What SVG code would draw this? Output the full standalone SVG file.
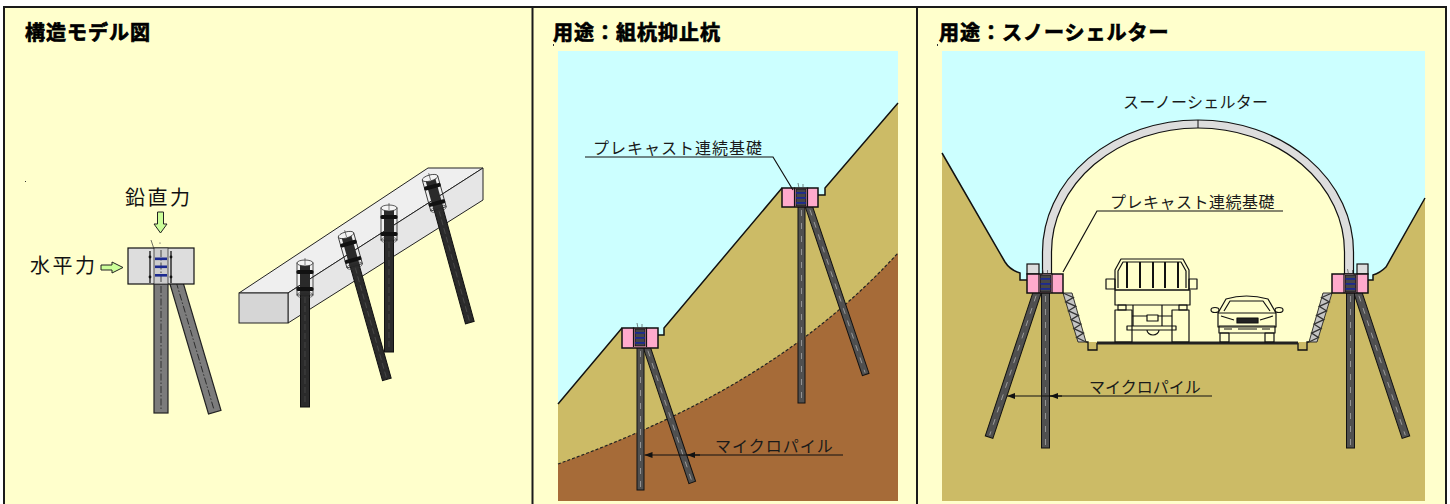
<svg xmlns="http://www.w3.org/2000/svg" width="1450" height="504" viewBox="0 0 1450 504">
<defs>
<style>
.frame{fill:#FFFFCC;stroke:#1a1a1a;stroke-width:2}
.div{stroke:#1a1a1a;stroke-width:2}
.title{font-family:"Noto Sans CJK JP","Noto Sans CJK SC",sans-serif;font-weight:700;font-size:20px;letter-spacing:1px;fill:#000;stroke:#000;stroke-width:0.7}
.force{font-family:"Noto Sans CJK JP",sans-serif;font-size:20px;letter-spacing:2.5px;fill:#111}
.lbl{font-family:"Noto Sans CJK JP",sans-serif;font-size:16px;fill:#1a1a1a}
.sky{fill:#CCFFFF}
.soil{fill:#CCBB66}
.clay{fill:#A66B38}
.surf{fill:none;stroke:#111;stroke-width:1.5}
.seam{fill:none;stroke:#222;stroke-width:1.2;stroke-dasharray:3 2}
.foot{fill:#FFAACC;stroke:#111;stroke-width:1.5}
.pl{fill:#505050;stroke:#111;stroke-width:1}
.plc{fill:none;stroke:#9a9a9a;stroke-width:0.9;stroke-dasharray:6 7}
.mshaft{fill:#2b2b2b;stroke:#111;stroke-width:1}
.mcl{fill:none;stroke:#4a4a4a;stroke-width:0.8;stroke-dasharray:6 3}
.gpile{fill:#7c7c7c;stroke:#222;stroke-width:1.2}
.dd{fill:none;stroke:#222;stroke-width:0.8;stroke-dasharray:7 2 1.5 2}
.lead{fill:none;stroke:#111;stroke-width:1.2}
.push{fill:#CCFF99;stroke:#222;stroke-width:1}
.veh{fill:none;stroke:#111;stroke-width:1.2;stroke-linejoin:round}
.conc{fill:#DDDDDD;stroke:#111;stroke-width:1.2}
.bar{fill:#1c2a90}
</style>
<marker id="ah" viewBox="0 0 8 6" refX="8" refY="3" markerWidth="8" markerHeight="6" markerUnits="userSpaceOnUse" orient="auto-start-reverse">
<path d="M0,0 L8,3 L0,6 Z" fill="#111"/>
</marker>
<!-- pile head embedded in a precast footing (origin = footing top, pile axis) -->
<g id="phead">
<rect x="-5" y="1" width="10" height="17" fill="#474747" stroke="#111" stroke-width="0.8"/>
<rect class="bar" x="-5" y="4" width="10" height="1.8"/>
<rect class="bar" x="-5" y="9" width="10" height="1.8"/>
<rect class="bar" x="-5" y="14" width="10" height="1.8"/>
<line x1="-6.5" y1="-0.5" x2="-6.5" y2="19" stroke="#111" stroke-width="1.2"/>
<line x1="6.5" y1="-0.5" x2="6.5" y2="19" stroke="#111" stroke-width="1.2"/>
<path d="M-3,-5 L-2,0 M2,-4 L2,-1" fill="none" stroke="#333" stroke-width="0.6"/>
</g>
<!-- coupler cap of a micropile on the isometric beam (origin = top centre) -->
<g id="cap">
<rect x="-8" y="0" width="16" height="32" fill="none" stroke="#222" stroke-width="0.8"/>
<rect x="-5" y="2" width="10" height="30" fill="#2a2a2a"/>
<ellipse cx="0" cy="0" rx="8" ry="3" fill="#f4f4f4" stroke="#333" stroke-width="0.8"/>
<rect x="-8.5" y="7" width="17" height="4" rx="1.5" fill="#111"/>
<rect x="-8.5" y="24" width="17" height="4" rx="1.5" fill="#111"/>
<line x1="0" y1="-5" x2="0" y2="2" stroke="#333" stroke-width="0.6"/>
<ellipse cx="0" cy="32" rx="8" ry="3" fill="none" stroke="#333" stroke-width="0.6"/>
</g>
</defs>

<!-- sheet and panel frames -->
<rect x="0" y="0" width="1450" height="504" fill="#ffffff"/>
<rect class="frame" x="4" y="7" width="1442" height="505"/>
<line class="div" x1="532.5" y1="7" x2="532.5" y2="504"/>
<line class="div" x1="917" y1="7" x2="917" y2="504"/>

<!-- ===== structural model panel ===== -->
<g id="panel-model">
<text class="title" x="25" y="40">構造モデル図</text>
<rect x="25" y="181" width="1" height="1" fill="#333"/>
<text class="force" x="125" y="205">鉛直力</text>
<text class="force" x="30" y="273">水平力</text>

<g id="model-footing">
<g transform="translate(175,278) rotate(-16.5)">
<rect class="gpile" x="-6.5" y="0" width="13" height="140"/>
<line class="dd" x1="0" y1="4" x2="0" y2="138"/>
</g>
<rect class="conc" x="128" y="248" width="66" height="36" stroke-width="1.5"/>
<rect class="gpile" x="154" y="284" width="14" height="129"/>
<line class="dd" x1="161" y1="286" x2="161" y2="411"/>
<rect x="154" y="248" width="14" height="36" fill="#cdcdcd" stroke="#333" stroke-width="0.8"/>
<line class="dd" x1="161" y1="250" x2="161" y2="282"/>
<rect class="bar" x="155" y="257.5" width="12" height="2.6"/>
<rect class="bar" x="155" y="265.5" width="12" height="2.6"/>
<rect class="bar" x="155" y="274" width="12" height="2.6"/>
<line x1="150" y1="251" x2="150" y2="283" stroke="#111" stroke-width="1.3"/>
<line x1="171" y1="251" x2="171" y2="283" stroke="#111" stroke-width="1.3"/>
<circle cx="150" cy="257" r="1.4" fill="#111"/>
<circle cx="150" cy="277" r="1.4" fill="#111"/>
<circle cx="171" cy="257" r="1.4" fill="#111"/>
<circle cx="171" cy="277" r="1.4" fill="#111"/>
<path d="M151,240 L154,249" stroke="#333" stroke-width="0.7"/>
<circle cx="160" cy="243" r="0.6" fill="#333"/>
</g>

<g id="model-beam">
<polygon points="239,293 428,168 483,168 288,293" fill="#EFEFEF" stroke="#222" stroke-width="1"/>
<polygon points="288,293 483,168 483,200 288,323" fill="#E6E6E6" stroke="#222" stroke-width="1"/>
<rect x="239" y="293" width="49" height="30" fill="#D6D6D6" stroke="#222" stroke-width="1"/>
</g>

<g id="model-piles">
<g id="mpile-2" transform="translate(346,235) rotate(-15.8)">
<rect class="mshaft" x="-4.5" y="30" width="9" height="120"/>
<line class="mcl" x1="0" y1="34" x2="0" y2="148"/>
<use href="#cap"/>
</g>
<g id="mpile-4" transform="translate(430,178) rotate(-15.4)">
<rect class="mshaft" x="-4.5" y="30" width="9" height="120"/>
<line class="mcl" x1="0" y1="34" x2="0" y2="148"/>
<use href="#cap"/>
</g>
<g id="mpile-3" transform="translate(389,208)">
<rect class="mshaft" x="-4.5" y="30" width="9" height="114"/>
<line class="mcl" x1="0" y1="34" x2="0" y2="142"/>
<use href="#cap"/>
</g>
<g id="mpile-1" transform="translate(305,263)">
<rect class="mshaft" x="-4.5" y="30" width="9" height="114"/>
<line class="mcl" x1="0" y1="34" x2="0" y2="142"/>
<use href="#cap"/>
</g>
</g>
</g>

<!-- ===== slope stabilisation panel ===== -->
<g id="panel-slope">
<text class="title" x="553" y="40">用途：組杭抑止杭</text>
<rect x="553" y="44" width="1" height="2" fill="#333"/>
<rect class="sky" x="558" y="51" width="340" height="450"/>
<path class="soil" d="M558,404 L622,328 L658,328 L658,335 L664,335 L664,328 L782,188 L818,188 L818,195 L825,195 L825,188 L898,103 L898,501 L558,501 Z"/>
<path class="clay" d="M558,464 C680,420 800,360 898,253 L898,501 L558,501 Z"/>
<path class="seam" d="M558,464 C680,420 800,360 898,253"/>
<path class="surf" d="M558,404 L622,328 M658,335 L664,335 L664,328 L782,188 M818,195 L825,195 L825,188 L898,103"/>

<g id="slope-lower">
<g transform="translate(646,345) rotate(-18.6)">
<rect class="pl" x="-3.5" y="0" width="7" height="145"/>
<line class="plc" x1="0" y1="6" x2="0" y2="143"/>
</g>
<rect class="pl" x="637" y="345" width="7" height="145"/>
<line class="plc" x1="640.5" y1="351" x2="640.5" y2="488"/>
<rect class="foot" x="622" y="328" width="36" height="20"/>
<use href="#phead" x="640" y="328"/>
</g>

<g id="slope-upper">
<g transform="translate(808,204) rotate(-18.7)">
<rect class="pl" x="-3.5" y="0" width="7" height="180"/>
<line class="plc" x1="0" y1="6" x2="0" y2="178"/>
</g>
<rect class="pl" x="798" y="204" width="7" height="199"/>
<line class="plc" x1="801.5" y1="210" x2="801.5" y2="401"/>
<rect class="foot" x="782" y="188" width="36" height="19"/>
<use href="#phead" x="801" y="188"/>
</g>

<text class="lbl" x="593" y="154" letter-spacing="1">プレキャスト連続基礎</text>
<text class="lbl" x="715" y="452" letter-spacing="1">マイクロパイル</text>
</g>

<!-- ===== snow shelter panel ===== -->
<g id="panel-shelter">
<text class="title" x="939" y="40">用途：スノーシェルター</text>
<rect x="937" y="44" width="1" height="2" fill="#333"/>
<rect class="sky" x="942" y="51" width="483" height="450"/>
<path class="soil" d="M942,153 L1005,262 Q1010,270 1020,273 L1020,280 L1027,280 L1027,274 L1368,274 L1368,280 L1373,280 L1373,275 Q1380,273 1386,267 L1425,198 L1425,501 L942,501 Z"/>
<path fill="#FFFFCC" d="M1047,274 L1047,252 A151,128 0 0 1 1349,252 L1349,274 L1332,274 L1332,293 L1323,293 L1309,342 L1086,342 L1072,293 L1063,293 L1063,274 Z"/>
<path class="surf" d="M942,153 L1005,262 Q1010,270 1020,273 L1020,280 L1027,280 M1368,280 L1373,280 L1373,275 Q1380,273 1386,267 L1425,198"/>

<g id="cut-walls">
<polygon points="1063,293 1072,293 1086,342 1078,342" fill="#c4c4c4" stroke="#222" stroke-width="0.9"/>
<polyline points="1063,293 1073.3,297.5 1065.7,301.9 1075.8,306.4 1068.5,310.8 1078.4,315.3 1071.2,319.7 1080.9,324.2 1073.9,328.6 1083.5,333.1 1076.6,337.5 1086,342" fill="none" stroke="#333" stroke-width="1.3"/>
<polygon points="1332,293 1323,293 1309,342 1317,342" fill="#c4c4c4" stroke="#222" stroke-width="0.9"/>
<polyline points="1332,293 1321.7,297.5 1329.3,301.9 1319.2,306.4 1326.5,310.8 1316.6,315.3 1323.8,319.7 1314.1,324.2 1321.1,328.6 1311.5,333.1 1318.4,337.5 1309,342" fill="none" stroke="#333" stroke-width="1.3"/>
</g>

<g id="road">
<path d="M1086,342 L1088,342 L1088,350 L1097,350 L1097,343 M1298,343 L1298,350 L1307,350 L1307,342 L1309,342" fill="none" stroke="#111" stroke-width="1.3"/>
<line x1="1097" y1="343" x2="1298" y2="343" stroke="#222" stroke-width="3"/>
</g>

<g id="shelter-left">
<g transform="translate(1038,290) rotate(18.4)">
<rect class="pl" x="-4" y="0" width="8" height="155"/>
<line class="plc" x1="0" y1="6" x2="0" y2="153"/>
</g>
<rect class="pl" x="1041.5" y="290" width="8" height="158"/>
<line class="plc" x1="1045.5" y1="296" x2="1045.5" y2="446"/>
</g>
<g id="shelter-right">
<g transform="translate(1357,290) rotate(-18.4)">
<rect class="pl" x="-4" y="0" width="8" height="155"/>
<line class="plc" x1="0" y1="6" x2="0" y2="153"/>
</g>
<rect class="pl" x="1346.5" y="290" width="8" height="158"/>
<line class="plc" x1="1350.5" y1="296" x2="1350.5" y2="446"/>
</g>

<g id="arch">
<path class="conc" d="M1042.5,274 L1042.5,252 A155.5,132 0 0 1 1353.5,252 L1353.5,274 L1344.5,274 L1344.5,252 A146.5,124 0 0 0 1051.5,252 L1051.5,274 Z"/>
<line x1="1198" y1="120" x2="1198" y2="128" stroke="#111" stroke-width="1"/>
</g>

<g id="footing-left">
<rect class="conc" x="1027" y="264" width="12" height="10"/>
<rect class="foot" x="1027" y="274" width="36" height="19"/>
<rect x="1042.5" y="274.5" width="9" height="4" fill="#ffcce0"/>
<use href="#phead" x="1045.5" y="274"/>
</g>
<g id="footing-right">
<rect class="conc" x="1357" y="264" width="11" height="10"/>
<rect class="foot" x="1332" y="274" width="36" height="19"/>
<rect x="1344.5" y="274.5" width="9" height="4" fill="#ffcce0"/>
<use href="#phead" x="1350.5" y="274"/>
</g>

<g id="truck" class="veh">
<path d="M1115,290 V270 L1121,259 H1183 L1189,270 V290 Z"/>
<path d="M1118,288 V271 L1123,262 H1181 L1186,271 V288"/>
<path d="M1127,262 V288 M1140,262 V288 M1153,262 V288 M1165,262 V288 M1178,262 V288" stroke-width="2"/>
<rect x="1106" y="279" width="9" height="10"/>
<rect x="1189" y="279" width="8" height="10"/>
<rect x="1115" y="290" width="75" height="15"/>
<rect x="1118" y="305" width="8" height="5"/>
<rect x="1179" y="305" width="8" height="5"/>
<rect x="1115" y="310" width="17" height="32"/>
<rect x="1172" y="310" width="17" height="32"/>
<path d="M1133,305 V326 M1162,305 V326 M1132,316 H1147 M1158,316 H1172"/>
<rect x="1147" y="315" width="11" height="6"/>
<rect x="1127" y="326" width="49" height="4"/>
<path d="M1147,330 A6,5 0 0 0 1159,330"/>
</g>

<g id="car" class="veh">
<path d="M1218,313 L1226,299 Q1246,293 1268,299 L1276,313"/>
<path d="M1224,311 L1230,301 H1263 L1270,311"/>
<rect x="1218" y="313" width="58" height="14"/>
<ellipse cx="1215" cy="310" rx="4" ry="2.5"/>
<ellipse cx="1279" cy="310" rx="4" ry="2.5"/>
<path d="M1221,316 L1234,320 M1273,316 L1260,320"/>
<rect x="1237" y="318" width="21" height="5" fill="#222"/>
<rect x="1219" y="326" width="56" height="7"/>
<path d="M1224,329 H1232 M1262,329 H1270 M1238,329 H1257"/>
<rect x="1220" y="333" width="9" height="9"/>
<rect x="1265" y="333" width="9" height="9"/>
</g>

<text class="lbl" x="1123" y="108" letter-spacing="0.3">スーノーシェルター</text>
<text class="lbl" x="1110" y="208" letter-spacing="0.5">プレキャスト連続基礎</text>
<text class="lbl" x="1089" y="393" letter-spacing="0">マイクロパイル</text>
</g>

<!-- leaders and load arrows -->
<g id="connectors">
<polygon class="push" points="157.5,212 163.5,212 163.5,224 167,224 160.5,233 154,224 157.5,224"/>
<polygon class="push" points="101,265 112,265 112,262 123,267.5 112,273 112,270 101,270"/>
<polyline class="lead" points="585,157 773,157 793,190"/>
<path class="lead" d="M644.5,455 H843" marker-start="url(#ah)"/>
<path class="lead" d="M687,455 H700" marker-start="url(#ah)"/>
<polyline class="lead" points="1283,211 1097,211 1063,272"/>
<path class="lead" d="M1007,396 H1212" marker-start="url(#ah)"/>
<path class="lead" d="M1050,396 H1062" marker-start="url(#ah)"/>
</g>
</svg>
